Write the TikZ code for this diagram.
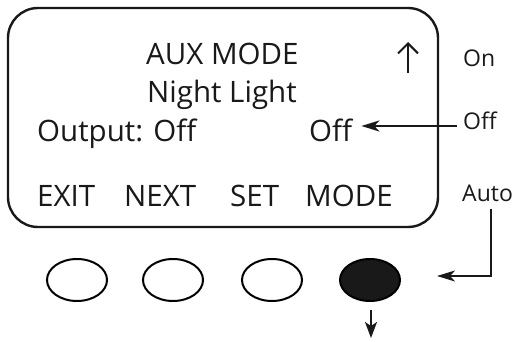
\documentclass[tikz,border=0pt]{standalone}
\usepackage{fontspec}
\setmainfont{Open Sans}
\usetikzlibrary{arrows.meta,shapes.geometric}
\begin{document}
\begin{tikzpicture}[x=1pt,y=-1pt,
  lcd/.style={font=\fontsize{29.5}{30}\selectfont, inner sep=0pt, anchor=base west},
  lab/.style={font=\fontsize{23}{24}\selectfont, inner sep=0pt, anchor=base west},
  btn/.style={draw, line width=2pt, ellipse, minimum width=60pt, minimum height=42pt, inner sep=0pt},
  conn/.style={line width=2.2pt, -{Stealth[length=18pt,width=11pt,inset=5pt]}},
  every node/.style={text=black!90}]
\useasboundingbox (0,0) rectangle (520,342);
\draw[line width=2.4pt, black!90, rounded corners=30pt] (8,8) rectangle (438,227);
\node[lcd] (aux) at (146,65) {AUX MODE};
\node[lcd] (night) at (147,103) {Night Light};
\node[lcd] (output) at (37,142) {Output: Off};
\node[lcd] (offv) at (309,142) {Off};
\node[lcd] (exit) at (37,207) {EXIT};
\node[lcd] (next) at (124,207) {NEXT};
\node[lcd] (set) at (230,207) {SET};
\node[lcd] (mode) at (305,207) {MODE};
\coordinate (upb) at (408,73);
\coordinate (upt) at (408,42);
\draw[line width=2pt, black!90, -{Straight Barb[length=10pt,width=20pt,line width=2pt]}] (upb) -- (upt);
\node[lab] (on) at (463,67) {On};
\node[lab] (off) at (463,130) {Off};
\node[lab] (auto) at (462,202) {Auto};
\node[btn] (b1) at (77,280) {};
\node[btn] (b2) at (173,280) {};
\node[btn] (b3) at (272,280) {};
\node[btn, fill=black!90] (b4) at (370,280) {};
\coordinate (offs) at (457,126);
\draw[conn, black!90, shorten >=9pt] (offs) -- (offv.east |- offs);
\draw[conn, black!90] (491,209) coordinate (as) -- (as |- 0,276) -- (437,276);
\coordinate (dt) at (371,310);
\coordinate (db) at (371,338);
\draw[line width=2pt, black!90, -{Stealth[length=16pt,width=12pt,inset=4pt]}] (dt) -- (db);
\end{tikzpicture}
\end{document}
